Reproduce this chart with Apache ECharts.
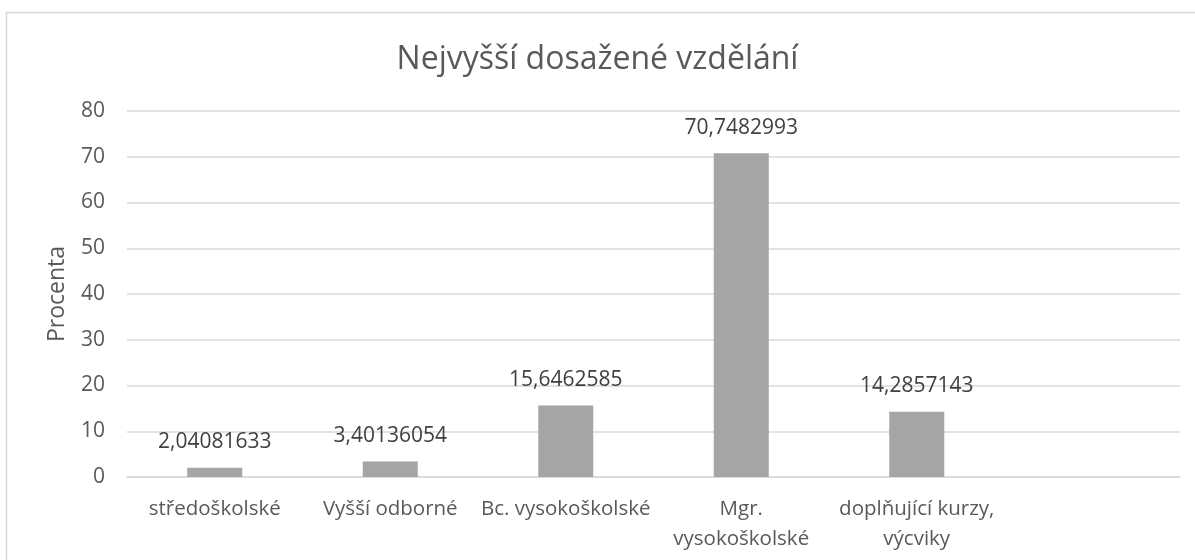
<!DOCTYPE html>
<html>
<head>
<meta charset="utf-8">
<script src="https://cdn.jsdelivr.net/npm/echarts@6/dist/echarts.min.js"></script>
<style>
  html, body { margin: 0; padding: 0; background: #fff; }
  #chart { width: 1195px; height: 560px; }
</style>
</head>
<body>
<div id="chart"></div>
<script>
// data
var categories = ['středoškolské', 'Vyšší odborné', 'Bc. vysokoškolské', 'Mgr.\nvysokoškolské', 'doplňující kurzy,\nvýcviky', '']
var values = [2.04081633, 3.40136054, 15.6462585, 70.7482993, 14.2857143, null]
var yTicks = { min: 0, max: 80, step: 10 }

var font = '"Open Sans", sans-serif'
var chart = echarts.init(document.getElementById('chart'))

var option = {
    backgroundColor: '#fff',
    animation: false,
    title: {
        text: 'Nejvyšší dosažené vzdělání',
        left: 'center',
        top: 39,
        textStyle: { fontFamily: font, fontSize: 32, fontWeight: 'normal', color: '#595959' }
    },
    graphic: [{
        type: 'rect',
        shape: { x: 6.5, y: 12.5, width: 1250, height: 620 },
        style: { fill: 'none', stroke: '#d9d9d9', lineWidth: 1.5 },
        silent: true
    }],
    grid: { left: 127, right: 15, top: 111, bottom: 83 },
    xAxis: {
        type: 'category',
        data: categories,
        axisLine: { lineStyle: { color: '#d9d9d9', width: 1.5 } },
        axisTick: { show: false },
        axisLabel: { fontFamily: font, fontSize: 20.5, color: '#595959', margin: 17, lineHeight: 30, interval: 0 }
    },
    yAxis: {
        type: 'value',
        min: yTicks.min,
        max: yTicks.max,
        interval: yTicks.step,
        name: 'Procenta',
        nameLocation: 'middle',
        nameGap: 58,
        nameTextStyle: { fontFamily: font, fontSize: 23, color: '#595959' },
        axisLine: { show: false },
        axisTick: { show: false },
        axisLabel: { fontFamily: font, fontSize: 21, color: '#595959', margin: 22 },
        splitLine: { lineStyle: { color: '#d9d9d9', width: 1.5 } }
    },
    series: [{
        type: 'bar',
        data: values,
        barWidth: 55,
        itemStyle: { color: '#a5a5a5' },
        label: {
            show: true,
            position: 'top',
            distance: 15,
            fontFamily: font,
            fontSize: 21,
            color: '#404040',
            formatter: function (p) { return String(p.value).replace('.', ',') }
        }
    }]
}

chart.setOption(option)
</script>
</body>
</html>
